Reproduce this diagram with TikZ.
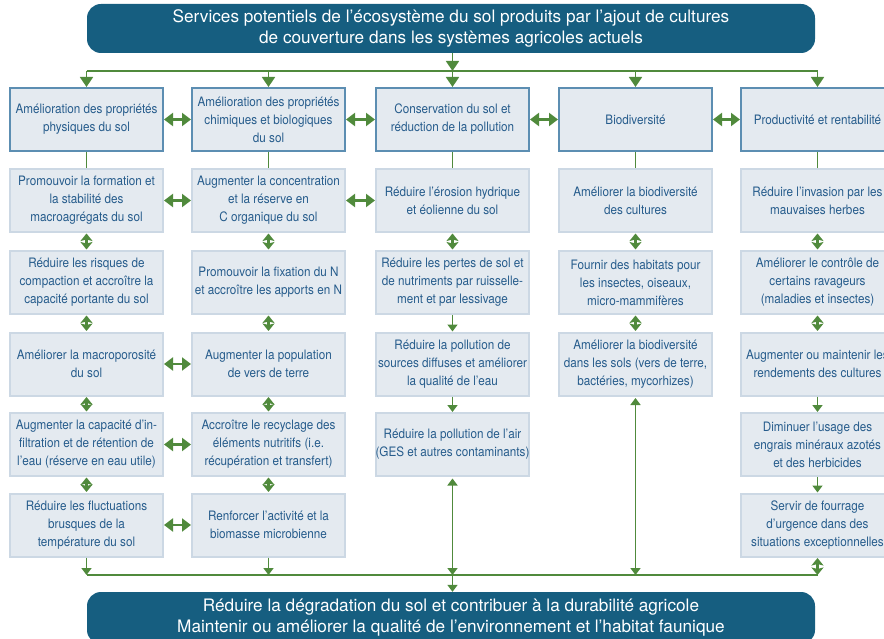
\documentclass[tikz,border=0pt]{standalone}
\usepackage{fontspec}
\setmainfont{TeX Gyre Heros}
\newfontfamily\cond[FakeStretch=0.9]{TeX Gyre Heros}
\usetikzlibrary{arrows.meta}
\definecolor{grn}{RGB}{80,138,60}
\definecolor{txt}{RGB}{38,92,140}
\definecolor{navy}{RGB}{22,94,128}
\definecolor{hbord}{RGB}{92,142,178}
\definecolor{bfill}{RGB}{228,234,240}
\definecolor{sbord}{RGB}{204,216,228}
\tikzset{
  gl/.style={draw=grn, line width=1.6pt},
  dn/.style={gl, -{Triangle[width=10pt,length=7pt]}},
  dnb/.style={gl, -{Triangle[width=13pt,length=10pt]}},
  upb/.style={gl, {Triangle[width=10pt,length=7pt]}-{Triangle[width=10pt,length=7pt]}},
  dbl/.style={gl, line width=2.4pt, {Stealth[width=12pt,length=7.5pt,inset=1.5pt]}-{Stealth[width=12pt,length=7.5pt,inset=1.5pt]}, shorten <=0.5pt, shorten >=0.5pt},
  hdbl/.style={gl, line width=2.2pt, {Triangle[width=13pt,length=9pt]}-{Triangle[width=13pt,length=9pt]}},
  big/.style={fill=navy, text=white, rounded corners=14pt, minimum width=728pt, inner sep=0pt, align=center, font=\fontsize{17.2}{21}\selectfont},
  hbox/.style={rectangle, fill=bfill, draw=hbord, line width=2pt, minimum width=153pt, minimum height=63pt, inner sep=0pt, align=center, text=txt, font=\cond\fontsize{13}{18}\selectfont},
  sbox/.style={rectangle, fill=bfill, draw=sbord, line width=2pt, minimum width=153pt, minimum height=63pt, inner sep=0pt, align=center, text=txt, font=\cond\fontsize{13}{18}\selectfont},
}
\begin{document}
\begin{tikzpicture}[x=1pt,y=-1pt]
\useasboundingbox (0,0) rectangle (884,639);
% big boxes
\node[big, minimum height=49pt] (top) at (451,28.5) {Services potentiels de l’écosystème du sol produits par l’ajout de cultures\\de couverture dans les systèmes agricoles actuels};
\node[big, minimum height=52pt] (bot) at (451,618) {Réduire la dégradation du sol et contribuer à la durabilité agricole\\Maintenir ou améliorer la qualité de l’environnement et l’habitat faunique};
% headers
\node[hbox] (h1) at (86.5,119.5) {Amélioration des propriétés\\physiques du sol};
\node[hbox] (h2) at (268.5,119.5) {Amélioration des propriétés\\chimiques et biologiques\\du sol};
\node[hbox] (h3) at (452.5,119.5) {Conservation du sol et\\réduction de la pollution};
\node[hbox] (h4) at (635.5,119.5) {Biodiversité};
\node[hbox] (h5) at (817.5,119.5) {Productivité et rentabilité};
% column 1
\node[sbox] (a1) at (86.5,200.5) {Promouvoir la formation et\\la stabilité des\\macroagrégats du sol};
\node[sbox] (a2) at (86.5,282.5) {Réduire les risques de\\compaction et accroître la\\capacité portante du sol};
\node[sbox] (a3) at (86.5,364) {Améliorer la macroporosité\\du sol};
\node[sbox] (a4) at (86.5,444.5) {Augmenter la capacité d’in-\\filtration et de rétention de\\l’eau (réserve en eau utile)};
\node[sbox] (a5) at (86.5,525) {Réduire les fluctuations\\brusques de la\\température du sol};
% column 2
\node[sbox] (b1) at (268.5,200.5) {Augmenter la concentration\\et la réserve en\\C organique du sol};
\node[sbox] (b2) at (268.5,282.5) {Promouvoir la fixation du N\\et accroître les apports en N};
\node[sbox] (b3) at (268.5,364) {Augmenter la population\\de vers de terre};
\node[sbox] (b4) at (268.5,444.5) {Accroître le recyclage des\\éléments nutritifs (i.e.\\récupération et transfert)};
\node[sbox] (b5) at (268.5,525) {Renforcer l’activité et la\\biomasse microbienne};
% column 3
\node[sbox] (c1) at (452.5,200.5) {Réduire l’érosion hydrique\\et éolienne du sol};
\node[sbox] (c2) at (452.5,282.5) {Réduire les pertes de sol et\\de nutriments par ruisselle-\\ment et par lessivage};
\node[sbox] (c3) at (452.5,364) {Réduire la pollution de\\sources diffuses et améliorer\\la qualité de l’eau};
\node[sbox] (c4) at (452.5,444.5) {Réduire la pollution de l’air\\(GES et autres contaminants)};
% column 4
\node[sbox] (d1) at (635.5,200.5) {Améliorer la biodiversité\\des cultures};
\node[sbox] (d2) at (635.5,282.5) {Fournir des habitats pour\\les insectes, oiseaux,\\micro-mammifères};
\node[sbox] (d3) at (635.5,364) {Améliorer la biodiversité\\dans les sols (vers de terre,\\bactéries, mycorhizes)};
% column 5
\node[sbox] (e1) at (817.5,200.5) {Réduire l’invasion par les\\mauvaises herbes};
\node[sbox] (e2) at (817.5,282.5) {Améliorer le contrôle de\\certains ravageurs\\(maladies et insectes)};
\node[sbox] (e3) at (817.5,364) {Augmenter ou maintenir les\\rendements des cultures};
\node[sbox] (e4) at (817.5,444.5) {Diminuer l’usage des\\engrais minéraux azotés\\et des herbicides};
\node[sbox] (e5) at (817.5,525) {Servir de fourrage\\d’urgence dans des\\situations exceptionnelles};
% buses
\coordinate (tb) at (0,71);
\coordinate (bb) at (0,575);
\draw[gl] (h1.north |- tb) -- (h5.north |- tb);
\draw[gl] (a5.south |- bb) -- (e5.south |- bb);
\draw[dnb] (top.south -| h3.north) -- (h3.north |- tb);
\foreach \h in {h1,h2,h3,h4,h5} \draw[dnb] (\h.north |- tb) -- (\h.north);
% header to first row
\draw[gl] (h1) -- (a1); \draw[gl] (h2) -- (b1); \draw[gl] (h3) -- (c1);
\draw[gl] (h4) -- (d1); \draw[gl] (h5) -- (e1);
% vertical links
\draw[dbl] (a1) -- (a2); \draw[dbl] (a2) -- (a3); \draw[dbl] (a3) -- (a4); \draw[dbl] (a4) -- (a5);
\draw[dbl] (b1) -- (b2); \draw[dbl] (b2) -- (b3); \draw[dbl] (b3) -- (b4); \draw[dbl] (b4) -- (b5);
\draw[dbl] (c1) -- (c2); \draw[dn] (c2) -- (c3); \draw[dn] (c3) -- (c4);
\draw[dbl] (d1) -- (d2); \draw[dbl] (d2) -- (d3);
\draw[dbl] (e1) -- (e2); \draw[dbl] (e2) -- (e3); \draw[dn] (e3) -- (e4); \draw[dn] (e4) -- (e5);
% to bottom bus
\draw[dn] (a5.south) -- (a5.south |- bb);
\draw[dn] (b5.south) -- (b5.south |- bb);
\draw[upb, shorten <=1.5pt] (c4.south) -- (c4.south |- bb);
\draw[upb, shorten <=1.5pt] (d3.south) -- (d3.south |- bb);
\draw[dbl, shorten >=0pt] (e5.south) -- (e5.south |- bb);
\draw[dn] (c4.south |- bb) -- (c4.south |- bot.north);
% horizontal links
\draw[hdbl] (h1) -- (h2); \draw[hdbl] (h2) -- (h3); \draw[hdbl] (h3) -- (h4); \draw[hdbl] (h4) -- (h5);
\draw[hdbl] (a1) -- (b1); \draw[hdbl] (b1) -- (c1);
\draw[hdbl] (a3) -- (b3); \draw[hdbl] (a4) -- (b4); \draw[hdbl] (a5) -- (b5);
\end{tikzpicture}
\end{document}
